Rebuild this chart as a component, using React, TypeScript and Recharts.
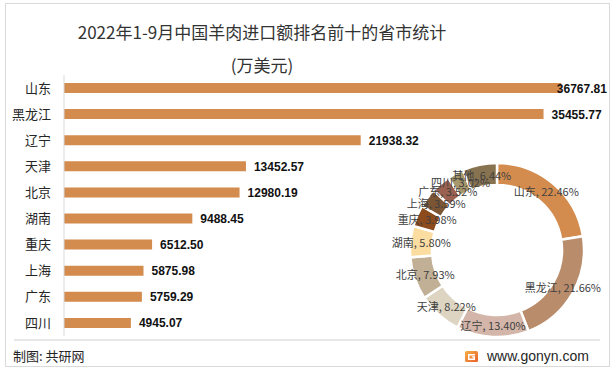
import { Bar, BarChart, Cell, LabelList, Pie, PieChart, XAxis, YAxis } from "recharts";

const provinces = ["山东", "黑龙江", "辽宁", "天津", "北京", "湖南", "重庆", "上海", "广东", "四川"];
const importValues = [36767.81, 35455.77, 21938.32, 13452.57, 12980.19, 9488.45, 6512.5, 5875.98, 5759.29, 4945.07];

const shareNames = ["山东", "黑龙江", "辽宁", "天津", "北京", "湖南", "重庆", "上海", "广东", "四川", "其他"];
const shareValues = [22.46, 21.66, 13.4, 8.22, 7.93, 5.8, 3.98, 3.59, 3.52, 3.02, 6.44];
const shareColors = [
  "#D38B4E",
  "#B98D6C",
  "#D3B6A9",
  "#DDD5C2",
  "#C1AF96",
  "#FBDDA2",
  "#8C4B1D",
  "#7B5534",
  "#9A6150",
  "#A8986B",
  "#887350",
];

const CJK = '"Noto Sans CJK SC", "Noto Sans", sans-serif';
const RAD = Math.PI / 180;

const barData = provinces.map((name, i) => ({ name, value: importValues[i] }));
const pieData = shareNames.map((name, i) => ({ name, value: shareValues[i] }));

function ValueLabel(props: any) {
  const { x = 0, y = 0, width = 0, height = 0, value } = props;
  const text = Number(value).toFixed(2);
  const textWidth = text.length * 6.4;
  const left = Math.min(x + width + 8, 608 - textWidth);
  return (
    <text
      x={left}
      y={y + height / 2}
      dy={4.5}
      fill="#111"
      fontSize={12}
      fontWeight={700}
      fontFamily='"Liberation Sans", Arial, sans-serif'
    >
      {text}
    </text>
  );
}

function ShareLabel(props: any) {
  const { cx, cy, midAngle, innerRadius, outerRadius, name, value } = props;
  const r = (innerRadius + outerRadius) / 2;
  const x = cx + r * Math.cos(-midAngle * RAD);
  const y = cy + r * Math.sin(-midAngle * RAD);
  return (
    <text x={x} y={y} dy={4} textAnchor="middle" fill="#404040" fontSize={11} fontFamily={CJK}>
      {`${name}, ${Number(value).toFixed(2)}%`}
    </text>
  );
}

function Logo() {
  return (
    <svg width={13} height={11} viewBox="0 0 13 11">
      <defs>
        <linearGradient id="logoGrad" x1="0" y1="0" x2="1" y2="1">
          <stop offset="0%" stopColor="#F7B046" />
          <stop offset="100%" stopColor="#E8602C" />
        </linearGradient>
      </defs>
      <rect x={0} y={0} width={13} height={11} rx={1.5} fill="url(#logoGrad)" />
      <path d="M3 3 H10 V4.4 H4.5 V7.6 H8.5 V6.4 H6.8 V5.2 H10 V9 H3 Z" fill="#fff" />
    </svg>
  );
}

export default function App() {
  return (
    <div
      style={{
        position: "absolute",
        left: 0,
        top: 0,
        width: 614,
        height: 372,
        background: "#fff",
        fontFamily: CJK,
        overflow: "hidden",
      }}
    >
      <div
        style={{
          position: "absolute",
          left: 5,
          top: 3,
          width: 603,
          height: 362,
          border: "1px solid #D9D9D9",
        }}
      />
      <div
        style={{
          position: "absolute",
          left: 62,
          width: 400,
          top: 20,
          textAlign: "center",
          fontSize: 17,
          lineHeight: "24px",
          color: "#333",
        }}
      >
        2022年1-9月中国羊肉进口额排名前十的省市统计
      </div>
      <div
        style={{
          position: "absolute",
          left: 62,
          width: 400,
          top: 53,
          textAlign: "center",
          fontSize: 17,
          lineHeight: "24px",
          color: "#333",
        }}
      >
        (万美元)
      </div>

      <div style={{ position: "absolute", left: 0, top: 0 }}>
        <BarChart
          width={614}
          height={372}
          data={barData}
          layout="vertical"
          margin={{ top: 75, right: 9, bottom: 36, left: 8 }}
          barCategoryGap={8}
        >
          <XAxis type="number" domain={[0, 40000]} hide />
          <YAxis
            type="category"
            dataKey="name"
            width={56}
            tickLine={false}
            tickSize={0}
            tickMargin={13}
            axisLine={{ stroke: "#D9D9D9" }}
            tick={{ fontSize: 13, fill: "#262626", fontFamily: CJK }}
            interval={0}
          />
          <Bar dataKey="value" fill="#D38B4E" barSize={10} isAnimationActive={false}>
            <LabelList dataKey="value" content={<ValueLabel />} />
          </Bar>
        </BarChart>
      </div>

      <div style={{ position: "absolute", left: 382, top: 145 }}>
        <PieChart width={220} height={200}>
          <Pie
            data={pieData}
            dataKey="value"
            nameKey="name"
            cx={110}
            cy={100}
            innerRadius={65}
            outerRadius={87}
            startAngle={90}
            endAngle={-270}
            stroke="#fff"
            strokeWidth={2.5}
            labelLine={false}
            label={ShareLabel}
            isAnimationActive={false}
          >
            {pieData.map((d, i) => (
              <Cell key={d.name} fill={shareColors[i]} />
            ))}
          </Pie>
        </PieChart>
      </div>

      <div
        style={{
          position: "absolute",
          left: 14,
          top: 339,
          width: 586,
          height: 2,
          background: "#E8E8E8",
        }}
      />
      <div
        style={{
          position: "absolute",
          left: 13,
          top: 347,
          fontSize: 13,
          lineHeight: "18px",
          color: "#262626",
        }}
      >
        制图: 共研网
      </div>
      <div
        style={{
          position: "absolute",
          left: 465,
          top: 347,
          display: "flex",
          alignItems: "center",
          gap: 9,
        }}
      >
        <Logo />
        <span
          style={{
            fontSize: 14,
            lineHeight: "18px",
            color: "#262626",
            fontFamily: '"Liberation Sans", Arial, sans-serif',
          }}
        >
          www.gonyn.com
        </span>
      </div>
    </div>
  );
}
